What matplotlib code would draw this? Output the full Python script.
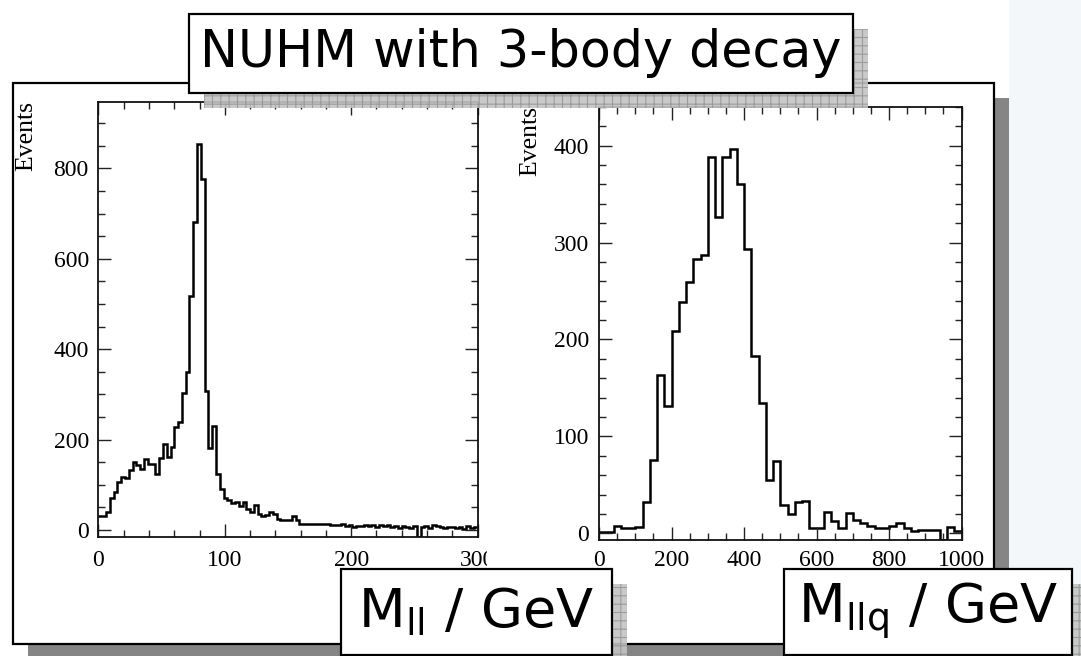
import numpy as np
import matplotlib
matplotlib.use("Agg")
import matplotlib.pyplot as plt
from matplotlib.patches import Rectangle
from matplotlib.ticker import MultipleLocator

# Dilepton invariant mass: 3 GeV bins from 0 to 300 GeV
mll_edges = np.arange(0, 301, 3)
mll_counts = [
    31, 32, 40, 70, 85, 107, 118, 114, 133, 150,
    143, 136, 156, 147, 146, 125, 159, 190, 162, 184,
    227, 240, 303, 349, 518, 681, 855, 777, 307, 181,
    230, 124, 90, 70, 66, 60, 62, 54, 63, 46,
    40, 55, 35, 32, 33, 40, 35, 24, 22, 22,
    22, 31, 23, 13, 13, 13, 13, 13, 13, 13,
    14, 10, 12, 10, 13, 8, 11, 7, 9, 8,
    12, 9, 10, 6, 10, 8, 12, 7, 8, 4,
    9, 7, 5, 8, 0, 6, 9, 5, 10, 8,
    7, 5, 6, 7, 4, 6, 3, 8, 4, 6,
]

# Dilepton + quark invariant mass: 20 GeV bins from 0 to 1000 GeV
mllq_edges = np.arange(0, 1001, 20)
mllq_counts = [
    1, 1, 8, 6, 6, 7, 32, 76, 163, 131,
    209, 239, 259, 283, 287, 388, 326, 388, 397, 360,
    293, 183, 134, 55, 75, 29, 20, 32, 33, 5,
    5, 22, 13, 5, 21, 14, 11, 8, 5, 5,
    8, 11, 6, 2, 3, 3, 3, 0, 7, 2,
]

mll_xticks = [0, 100, 200, 300]
mll_yticks = [0, 200, 400, 600, 800]
mllq_xticks = [0, 200, 400, 600, 800, 1000]
mllq_yticks = [0, 100, 200, 300, 400]

title_text = "NUHM with 3-body decay"
mll_label = r"$\mathregular{M_{ll}}$ / GeV"
mllq_label = r"$\mathregular{M_{llq}}$ / GeV"
ylabel_text = "Events"

plt.rcParams["font.family"] = ["Liberation Serif", "DejaVu Serif"]
plt.rcParams["hatch.linewidth"] = 0.8

W, H = 1081, 656
fig = plt.figure(figsize=(W / 100, H / 100), dpi=100)
fig.patch.set_facecolor("white")


def px_rect(x0, y0, x1, y1):
    """Pixel box (origin top-left) -> figure-fraction axes rectangle."""
    return [x0 / W, 1 - y1 / H, (x1 - x0) / W, (y1 - y0) / H]


# ---- background layer: slide strip, panel with drop shadow ----
bg = fig.add_axes([0, 0, 1, 1], zorder=0)
bg.set_xlim(0, W)
bg.set_ylim(H, 0)
bg.axis("off")
bg.add_patch(Rectangle((1009, 0), W - 1009, H, fc="#f3f7f9", lw=0))
bg.add_patch(Rectangle((28, 98), 981, 570, fc="#858585", lw=0))
bg.add_patch(Rectangle((12.5, 82.5), 981.5, 561.5, fc="white", ec="black", lw=1.6))


# ---- histograms ----
def draw_hist(rect, edges, counts, ylim, xlim, xticks, yticks, xminor, yminor, xpad):
    ax = fig.add_axes(rect, zorder=1)
    ax.set_facecolor("none")
    c = np.asarray(counts, dtype=float)
    # empty bins are drawn on the frame bottom
    shown = np.where(c > 0, c, ylim[0])
    ax.stairs(shown, edges, color="black", lw=1.8, baseline=None)
    ax.set_xlim(*xlim)
    ax.set_ylim(*ylim)
    ax.set_xticks(xticks)
    ax.set_yticks(yticks)
    ax.xaxis.set_minor_locator(MultipleLocator(xminor))
    ax.yaxis.set_minor_locator(MultipleLocator(yminor))
    ax.tick_params(which="both", direction="in", top=True, right=True,
                   labelsize=17, width=1.0, color="#222222")
    ax.tick_params(which="major", length=9.5)
    ax.tick_params(which="minor", length=5)
    ax.tick_params(axis="y", pad=7)
    ax.tick_params(axis="x", pad=xpad)
    for s in ax.spines.values():
        s.set_linewidth(1.3)
        s.set_color("#111111")
    return ax


ax1 = draw_hist(px_rect(98.5, 102, 477.5, 537), mll_edges, mll_counts,
                (-15.5, 947), (0, 300), mll_xticks, mll_yticks, 20, 50, 9)
ax2 = draw_hist(px_rect(599, 106.7, 961.5, 540.3), mllq_edges, mllq_counts,
                (-7.2, 440.2), (0, 1000), mllq_xticks, mllq_yticks, 50, 20, 7)

# the left plot is cut off on its right side
clip = Rectangle((0, 0), 487 / W, 1, transform=fig.transFigure)
for t in ax1.xaxis.get_major_ticks():
    t.label1.set_clip_path(clip)

fig.text(26.5 / W, 1 - 101 / H, ylabel_text, rotation=90, ha="center", va="top",
         fontsize=18.5)
fig.text(530 / W, 1 - 106 / H, ylabel_text, rotation=90, ha="center", va="top",
         fontsize=18.5)

# ---- overlay layer: boxed captions with textured shadows ----
ov = fig.add_axes([0, 0, 1, 1], zorder=2)
ov.set_xlim(0, W)
ov.set_ylim(H, 0)
ov.axis("off")
ov.patch.set_alpha(0)


def caption(x0, y0, x1, y1, text, size):
    ov.add_patch(Rectangle((x0 + 15, y0 + 15), x1 - x0, y1 - y0, fc="#c3c3c3",
                           ec="#969696", hatch="++", lw=0, alpha=0.9))
    ov.add_patch(Rectangle((x0, y0), x1 - x0, y1 - y0, fc="white", ec="black", lw=1.6))
    ov.text((x0 + x1) / 2, (y0 + y1) / 2, text, ha="center", va="center",
            fontsize=size, family="DejaVu Sans", color="black")


caption(189, 14, 853, 92.5, title_text, 36.5)
caption(340.5, 569, 611.5, 655, mll_label, 39)
caption(783.5, 569, 1072, 655, mllq_label, 39)

fig.savefig("out.png", dpi=100, facecolor="white")
